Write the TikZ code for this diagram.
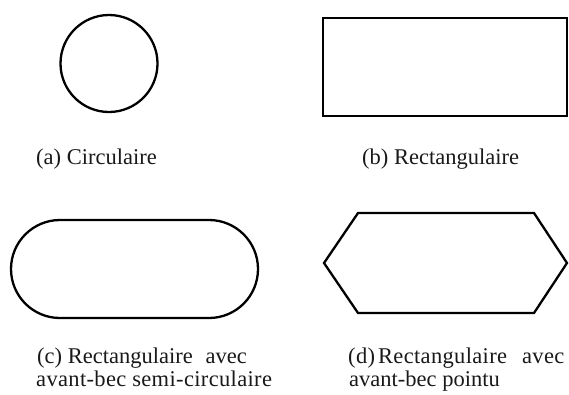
\documentclass[tikz,border=0pt]{standalone}
\usepackage{fontspec}
\setmainfont{Liberation Serif}
\begin{document}
\begin{tikzpicture}[x=1pt,y=-1pt,
  shapeline/.style={draw=black,line width=2.3pt,line join=miter},
  caption/.style={anchor=base west,inner sep=0pt,font=\fontsize{22.5}{26}\selectfont,text=black!90}]
\useasboundingbox (0,0) rectangle (569,394);
% (a) circle
\node[shapeline,circle,minimum size=97pt,inner sep=0pt] (circ) at (109,63.5) {};
\node[caption] (capa) at (36,164) {(a) Circulaire};
% (b) rectangle
\node[shapeline,rectangle,minimum width=244pt,minimum height=98pt,inner sep=0pt] (rect) at (445,67) {};
\node[caption] (capb) at (362,164) {(b) Rectangulaire};
% (c) rounded
\node[shapeline,rectangle,rounded corners=49pt,minimum width=247pt,minimum height=98pt,inner sep=0pt] (round) at (134.5,269) {};
\node[caption] (capc1) at (37,363) {(c) Rectangulaire\hspace{13pt}avec};
\node[caption] (capc2) at (36,386) {\addfontfeature{LetterSpace=1.5}avant-bec semi-circulaire};
% (d) hexagon
\coordinate (h1) at (324,263);
\coordinate (h2) at (358,213);
\coordinate (h3) at (534,213);
\coordinate (h4) at (567,263);
\coordinate (h5) at (534,313);
\coordinate (h6) at (358,313);
\draw[shapeline] (h1) -- (h2) -- (h3) -- (h4) -- (h5) -- (h6) -- cycle;
\node[caption] (capd1) at (348,363) {\addfontfeature{LetterSpace=1.5}(d)\hspace{3pt}Rectangulaire\hspace{15pt}avec};
\node[caption] (capd2) at (349,386) {avant-bec pointu};
\end{tikzpicture}
\end{document}
